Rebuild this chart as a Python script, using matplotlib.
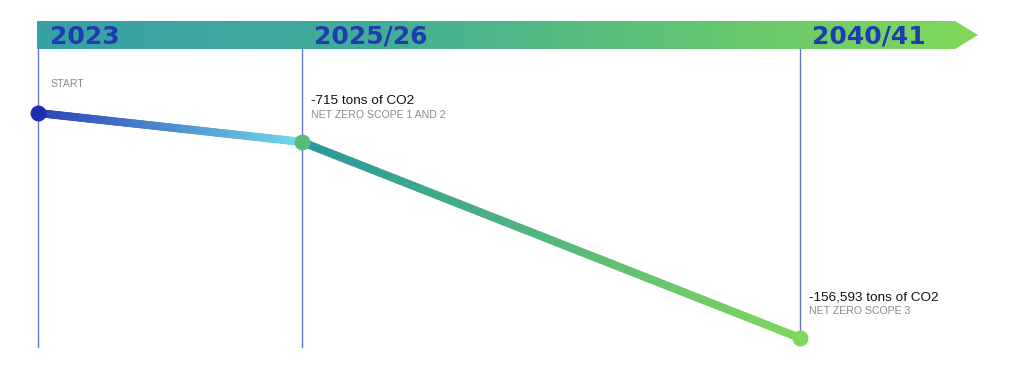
import numpy as np
import matplotlib
matplotlib.use("Agg")
import matplotlib.pyplot as plt
import matplotlib.transforms as mtransforms
from matplotlib.collections import LineCollection
from matplotlib.colors import LinearSegmentedColormap, to_rgb
from matplotlib.patches import Polygon

plt.rcParams['font.family'] = ['Liberation Sans', 'DejaVu Sans']

# data
milestones = ['2023', '2025/26', '2040/41']
years = [2023, 2025.5, 2040.5]
co2_change = [0, -715, -156593]
value_labels = ['', '-715 tons of CO2', '-156,593 tons of CO2']
captions = ['START', 'NET ZERO SCOPE 1 AND 2', 'NET ZERO SCOPE 3']

W, H = 1014, 387
fig = plt.figure(figsize=(W / 100, H / 100), dpi=100)

# header arrow with gradient
bar_l, bar_r, bar_tip, bar_t, bar_b = 37, 955, 978, 21, 49
bar_ax = fig.add_axes([bar_l / W, 1 - bar_b / H, (bar_tip - bar_l) / W, (bar_b - bar_t) / H])
bar_ax.set_axis_off()
bar_cmap = LinearSegmentedColormap.from_list(
    'bar', [(0, '#36a0a8'), (0.35, '#42ad98'), (0.7, '#62c472'), (1, '#80d958')])
grad = np.linspace(0, 1, 256).reshape(1, -1)
im = bar_ax.imshow(grad, cmap=bar_cmap, aspect='auto', extent=[0, 1, 0, 1])
tip_frac = (bar_r - bar_l) / (bar_tip - bar_l)
arrow = Polygon([(0, 0), (tip_frac, 0), (1, 0.5), (tip_frac, 1), (0, 1)],
                closed=True, transform=bar_ax.transData, facecolor='none', edgecolor='none')
bar_ax.add_patch(arrow)
im.set_clip_path(arrow)
bar_ax.set_xlim(0, 1)
bar_ax.set_ylim(0, 1)

# main axes: schematic symlog scales on both axes
ax = fig.add_axes([0, 0, 1, 1], zorder=2)
ax.patch.set_alpha(0)
ax.set_axis_off()
ax.set_xscale('symlog', linthresh=4.8)
ax.set_yscale('symlog', linthresh=2070)

x_off = np.array(years) - years[0]
y_val = np.array(co2_change, dtype=float)

# fit limits so first and last milestones land at the chosen pixel spots
tx = ax.xaxis.get_transform()
t0, t1 = tx.transform(np.array([x_off[0], x_off[-1]]))
px0, px1 = 38, 800
k = (px1 - px0) / (t1 - t0)
ax.set_xlim(*tx.inverted().transform(np.array([t0 - px0 / k, t0 + (W - px0) / k])))

ty = ax.yaxis.get_transform()
u0, u1 = ty.transform(np.array([y_val[0], y_val[-1]]))
py0, py1 = H - 113, H - 338
ky = (py0 - py1) / (u0 - u1)
ax.set_ylim(*ty.inverted().transform(np.array([u1 - py1 / ky, u0 + (H - py0) / ky])))

# pixel (top-down) transform
px = mtransforms.Affine2D().scale(1 / W, -1 / H).translate(0, 1) + ax.transAxes
xfrac = ax.get_xaxis_transform()

# vertical guide lines
guide_end = [347, 347, 338]
for xv, ye in zip(x_off, guide_end):
    ax.axvline(xv, ymin=1 - ye / H, ymax=1 - bar_b / H, color='#6676c4', lw=1, zorder=1)

# gradient line segments
disp = ax.transData.transform(np.column_stack([x_off, y_val]))
disp[:, 1] = H - disp[:, 1]
seg_colors = [('#2a40b6', '#72d8e8'), ('#2a979f', '#7fd75a')]
for i in range(len(x_off) - 1):
    n = 120
    xs = np.linspace(disp[i, 0], disp[i + 1, 0], n + 1)
    ys = np.linspace(disp[i, 1], disp[i + 1, 1], n + 1)
    pts = np.column_stack([xs, ys]).reshape(-1, 1, 2)
    segs = np.concatenate([pts[:-1], pts[1:]], axis=1)
    c0, c1 = np.array(to_rgb(seg_colors[i][0])), np.array(to_rgb(seg_colors[i][1]))
    f = np.linspace(0, 1, n)[:, None]
    lc = LineCollection(segs, colors=c0 + (c1 - c0) * f, linewidths=5.8,
                        capstyle='round', transform=px, zorder=3)
    ax.add_collection(lc)

point_colors = ['#1f2cae', '#58bb7c', '#80d95a']
for xv, yv, c in zip(x_off, y_val, point_colors):
    ax.plot(xv, yv, 'o', ms=11.5, color=c, mec='none', zorder=4)

# header labels
for xv, lab in zip(x_off, milestones):
    ax.annotate(lab, xy=(xv, 1 - 44 / H), xycoords=xfrac,
                xytext=(12 * 0.72, 0), textcoords='offset points',
                ha='left', va='baseline', fontsize=18, fontweight='bold',
                color='#1f3cb0', family=['DejaVu Sans'], zorder=5)

# value and caption texts
text_rows = [(None, 84), (101, 115), (297, 311)]
for xv, val, cap, (vy, cy) in zip(x_off, value_labels, captions, text_rows):
    if val:
        ax.annotate(val, xy=(xv, 1 - vy / H), xycoords=xfrac,
                    xytext=(9 * 0.72, 0), textcoords='offset points',
                    ha='left', va='center', fontsize=9.7, color='#111111')
    ax.annotate(cap, xy=(xv, 1 - cy / H), xycoords=xfrac,
                xytext=(9 * 0.72 if xv > 0 else 12 * 0.72, 0), textcoords='offset points',
                ha='left', va='center', fontsize=7.6, color='#8a8a8a')

fig.savefig('out.png', dpi=100)
